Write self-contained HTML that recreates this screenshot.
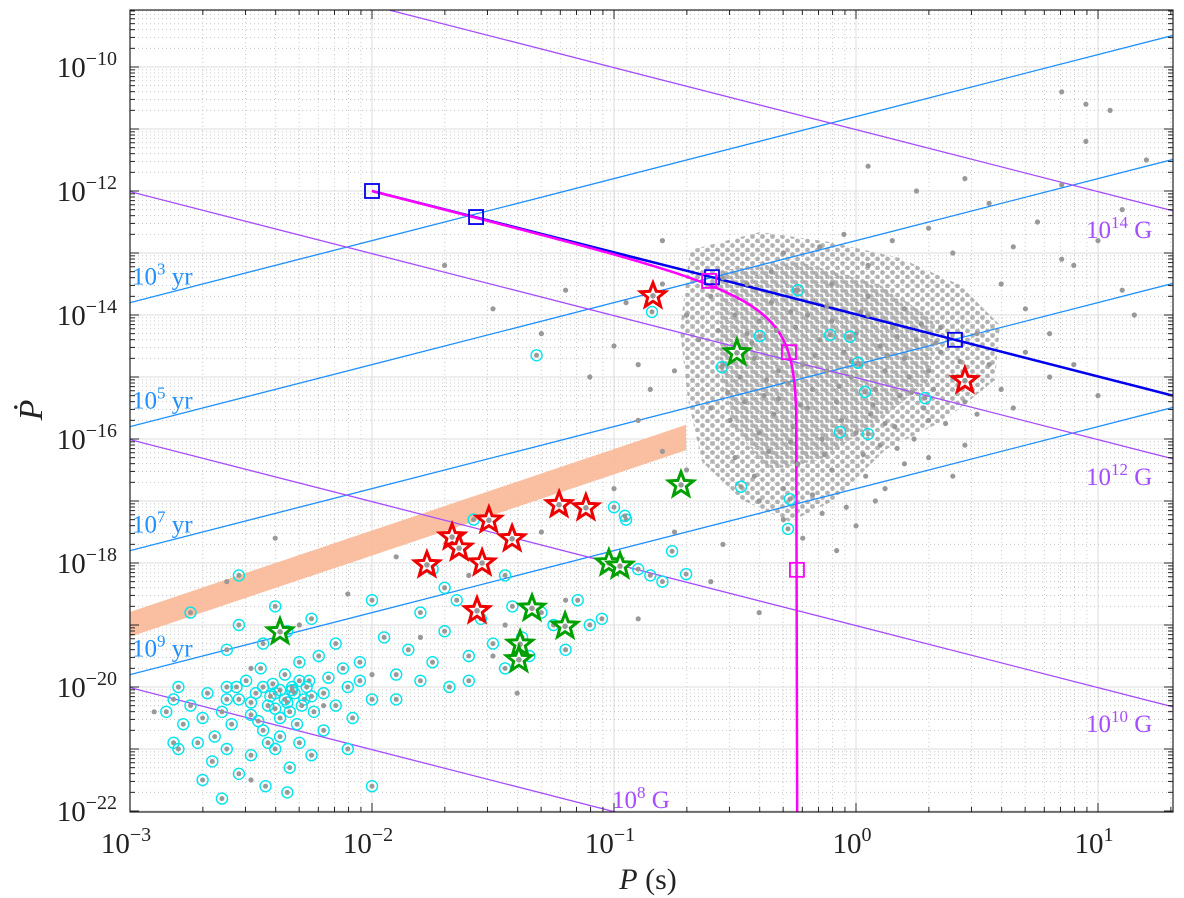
<!DOCTYPE html>
<html><head><meta charset="utf-8">
<style>
html,body{margin:0;padding:0;background:#fff;overflow:hidden;width:1184px;height:898px;}
svg{display:block;font-family:"Liberation Serif",serif;}
</style></head>
<body>
<svg id="chart" width="1184" height="898" viewBox="0 0 1184 898" xmlns="http://www.w3.org/2000/svg">
<defs>
<pattern id="dotsA" x="0" y="0" width="10" height="9" patternUnits="userSpaceOnUse"><circle cx="2.5" cy="2.5" r="2.4" fill="#9a9a9a"/><circle cx="7.5" cy="7" r="2.4" fill="#9a9a9a"/></pattern>
<pattern id="dotsB" x="0" y="0" width="10" height="9" patternUnits="userSpaceOnUse"><circle cx="6" cy="3.5" r="2.4" fill="#9a9a9a"/><circle cx="1" cy="8" r="2.4" fill="#9a9a9a"/></pattern>
</defs>
<g id="grid"></g>
<g id="density">
<path d="M690,250 L760,232 L830,242 L900,258 L960,285 L1000,325 L995,380 L945,420 L885,450 L835,500 L790,522 L742,500 L702,462 L688,400 L680,330 Z" fill="url(#dotsA)" opacity="0.75"/>
<path d="M720,270 L800,262 L880,285 L935,320 L930,380 L880,420 L820,460 L770,470 L735,430 L718,360 Z" fill="url(#dotsB)" opacity="0.75"/>
</g>
<g id="lines"></g>
<g id="pts"></g>
<g id="axes"></g>
</svg>
<script>
const xTicks=[-3,-2,-1,0,1];
const yTicks=[-10,-12,-14,-16,-18,-20,-22];
const ageLines=[3,5,7,9];
const bLines=[14,12,10,8];
const grayP=[-0.5,-0.45,-0.4,-0.35,-0.3,-0.25,-0.2,-0.15,-0.1,-0.05,0,0.05,0.1,0.15,0.2,0.25,0.3,0.35,
-0.55,-0.48,-0.42,-0.38,-0.32,-0.28,-0.22,-0.18,-0.12,-0.08,-0.02,0.02,0.08,0.12,0.18,0.22,0.28,0.32,0.4,0.45,
-0.6,-0.52,-0.46,-0.4,-0.34,-0.26,-0.2,-0.14,-0.06,0,0.06,0.1,0.16,0.24,0.3,
-0.5,-0.42,-0.36,-0.3,-0.24,-0.18,-0.1,-0.04,0.04,0.12,0.2,
-0.3,-0.22,-0.14,-0.4,-0.08,0,0.08,
-0.6,-0.7,-0.8,-0.65,-0.75,-0.55,-0.45,-0.35,-0.25,-0.1,0.05,0.2,0.35,0.5,0.55,0.6,0.5,0.45,0.4,0.3,
-0.47,-0.33,-0.17,-0.03,0.13,0.27,-0.37,-0.23,-0.07,0.07,0.23,0.37,-0.53,-0.27,-0.13,0.03,0.17,-0.43,-0.57,0.43,0.02,-0.12,-0.27,0.17,0.33,-0.02,-0.32,0.12,
0.6,0.7,0.8,0.9,1.0,0.75,0.85,1.1,1.2,0.95,0.65,0.55,0.4,0.3,0.15,0.05,-0.05,1.05,0.85,0.95,0.45,1.15,1.1,0.7,0.8,0.9,0.65,1.0,0.85,0.25,0.05,
-1.0,-0.9,-0.85,-1.1,-0.95,-1.3,-1.5,-1.7,-1.2,-0.9,-0.8,-0.7,-1.0,-1.3,-1.6,-1.9,-2.1,-2.3,-2.5,-1.8,-1.5,-1.2,-0.9,-0.6,-0.4,-1.4,-2.0,-2.6,-2.9,-2.4,-0.55,-0.75,-1.05,-1.45,-2.2,-2.5,-0.3,-0.15,-0.8];
const grayPd=[-14.0,-14.3,-14.1,-13.8,-14.5,-14.2,-14.0,-14.4,-14.1,-14.6,-14.3,-14.0,-14.5,-14.2,-14.7,-14.4,-14.9,-14.6,
-14.8,-15.0,-14.7,-15.3,-14.9,-15.1,-14.8,-15.2,-14.9,-15.4,-15.0,-14.8,-15.2,-14.9,-15.3,-15.0,-15.5,-15.2,-15.0,-15.4,
-15.5,-15.7,-15.4,-15.9,-15.6,-15.8,-15.5,-16.0,-15.7,-15.9,-15.6,-16.1,-15.8,-16.0,-15.7,
-16.3,-16.6,-16.2,-16.8,-16.4,-16.9,-16.5,-17.1,-16.6,-16.8,-16.4,
-17.3,-17.6,-17.2,-17.0,-17.8,-17.4,-17.0,
-13.7,-14.0,-13.5,-14.4,-14.9,-13.4,-13.5,-13.3,-13.6,-13.5,-13.7,-13.9,-14.2,-14.3,-14.8,-15.2,-15.6,-16.1,-16.6,-16.3,
-14.55,-14.25,-14.65,-14.35,-14.65,-14.15,-15.05,-15.45,-15.15,-15.45,-15.25,-15.75,-15.25,-16.05,-16.25,-16.25,-16.15,-14.45,-14.25,-14.75,-13.95,-13.85,-13.95,-14.35,-14.45,-14.75,-15.35,-15.75,
-13.5,-13.9,-14.3,-13.2,-12.8,-12.5,-11.9,-12.3,-11.5,-11.2,-12.9,-12.2,-13.0,-12.6,-12.8,-13.2,-12.7,-10.7,-10.4,-10.6,-11.8,-14.0,-13.6,-14.6,-15.0,-14.8,-15.5,-15.3,-13.1,-12.0,-11.6,
-14.5,-14.8,-15.2,-15.0,-13.8,-14.3,-13.9,-13.2,-13.6,-15.7,-16.2,-16.5,-16.8,-17.5,-18.2,-17.9,-18.5,-19.0,-19.7,-19.2,-19.5,-18.6,-18.9,-18.3,-18.8,-20.1,-19.8,-18.3,-20.4,-17.6,-17.7,-17.5,-18.0,-19.0,-20.3,-21.5,-13.0,-12.9,-12.8];
const cyanP=[-2.75,-2.7,-2.68,-2.65,-2.62,-2.6,-2.58,-2.55,-2.52,-2.5,-2.48,-2.46,-2.45,-2.43,-2.41,-2.4,-2.38,-2.36,-2.35,-2.33,-2.31,-2.3,-2.28,-2.26,-2.24,-2.22,-2.2,-2.18,-2.15,-2.12,-2.1,-2.08,-2.05,-2.0,
-2.8,-2.78,-2.72,-2.66,-2.6,-2.55,-2.5,-2.44,-2.4,-2.34,-2.3,-2.25,-2.2,-2.1,-2.0,-2.82,-2.85,-2.8,-2.82,-2.7,-2.62,-2.35,
-2.6,-2.55,-2.45,-2.4,-2.35,-2.25,-2.15,-2.05,-1.95,-1.9,-1.85,-1.8,-1.75,-1.7,-1.65,-1.6,-1.55,-1.5,-1.45,-1.42,-1.38,-1.35,-1.3,-1.25,-1.2,-1.15,-1.1,-1.05,-0.9,-0.85,-0.8,-0.95,-1.0,-1.58,-1.45,-1.7,-2.0,-1.75,-2.55,-2.75,-1.9,-1.8,-1.68,-1.6,
-2.45,-2.42,-2.38,-2.36,-2.32,-2.3,-2.27,-2.25,-2.4,-2.34,-2.29,-2.5,-2.47,-2.56,-2.6,-2.33,-2.38,-2.43,
-1.32,-0.843,-0.24,-0.397,-0.107,-0.025,0.008,0.037,-0.554,-0.066,0.05,0.285,-0.475,-0.273,-0.281,-0.955,-0.76,-0.702,-0.99];
const cyanPd=[-20.3,-20.5,-20.1,-20.8,-20.4,-20.0,-20.6,-20.2,-19.9,-20.45,-20.1,-19.7,-20.7,-20.3,-19.95,-20.1,-20.5,-19.8,-20.25,-20.0,-20.6,-19.6,-20.2,-19.9,-20.4,-19.5,-20.1,-19.85,-20.3,-19.7,-20.0,-20.5,-19.9,-20.2,
-20.0,-20.6,-20.9,-21.2,-21.0,-21.4,-21.1,-21.6,-21.0,-21.3,-20.9,-21.1,-20.7,-21.0,-21.6,-20.9,-20.4,-21.0,-20.2,-21.5,-21.8,-21.7,
-19.4,-19.0,-19.3,-18.7,-19.1,-18.9,-19.3,-19.6,-19.2,-19.8,-19.4,-18.8,-19.6,-19.1,-18.6,-19.5,-18.9,-19.3,-19.7,-18.7,-19.2,-19.5,-18.8,-19.0,-19.4,-18.6,-19.0,-18.9,-18.1,-18.2,-18.3,-17.3,-17.1,-17.3,-18.2,-18.4,-18.6,-18.1,-18.2,-18.8,-20.2,-19.9,-20.0,-19.9,
-20.0,-20.15,-20.05,-20.2,-20.1,-19.9,-20.0,-20.15,-20.35,-20.4,-20.3,-20.25,-20.55,-20.0,-20.2,-20.05,-20.8,-20.9,
-14.65,-13.95,-13.6,-14.34,-14.32,-14.35,-14.77,-15.24,-14.84,-15.89,-15.92,-15.34,-16.77,-16.97,-17.45,-17.24,-17.81,-18.18,-18.05];
const redP=[-0.839,0.450,-1.773,-1.669,-1.640,-1.545,-1.517,-1.421,-1.227,-1.116,-1.566];
const redPd=[-13.69,-15.06,-18.03,-17.58,-17.76,-18.00,-17.31,-17.61,-17.06,-17.11,-18.77];
const greenP=[-2.380,-0.492,-0.723,-1.021,-0.975,-1.339,-1.202,-1.388,-1.393];
const greenPd=[-19.11,-14.61,-16.74,-18.00,-18.05,-18.73,-19.02,-19.31,-19.56];
const blueSqP=[-2,-1.570,-0.595,0.409];
const blueSqPd=[-12,-12.42,-13.39,-14.40];
const magSqP=[-0.607,-0.277,-0.244];
const magSqPd=[-13.45,-14.60,-18.11];
const bandP=[-3,-0.702];
const bandUpper=[-18.79,-15.77];
const bandLower=[-19.19,-16.18];

const L=130,R=1173,T=10,B=812;
const X=lp=>130+(lp+3)*242;
const Y=ld=>67+(-10-ld)*62;
const NS="http://www.w3.org/2000/svg";
function mk(tag,attrs,parent){const e=document.createElementNS(NS,tag);for(const k in attrs)e.setAttribute(k,attrs[k]);parent.appendChild(e);return e;}
const grid=document.getElementById('grid'),lines=document.getElementById('lines'),pts=document.getElementById('pts'),axes=document.getElementById('axes');
const svg=document.getElementById('chart');
const defs=svg.querySelector('defs');
const cp=mk('clipPath',{id:'clip'},defs);mk('rect',{x:L,y:T,width:R-L,height:B-T},cp);
lines.setAttribute('clip-path','url(#clip)');pts.setAttribute('clip-path','url(#clip)');

for(let d=-3;d<=1;d++){for(let m=1;m<=9;m++){const lp=d+Math.log10(m);const x=X(lp);if(x<L||x>R)continue;
 const g=mk('line',{x1:x,x2:x,y1:T,y2:B,stroke:m==1?'#dcdcdc':'#bdbdbd','stroke-width':m==1?1:0.8,'stroke-dasharray':m==1?'none':'1 3'},grid);
 }}
for(let d=-23;d<=-9;d++){for(let m=1;m<=9;m++){const ld=d+Math.log10(m);const y=Y(ld);if(y<T||y>B)continue;
 const g=mk('line',{x1:L,x2:R,y1:y,y2:y,stroke:m==1?'#dcdcdc':'#bdbdbd','stroke-width':m==1?1:0.8,'stroke-dasharray':m==1?'none':'1 3'},grid);
 }}

{const p=mk('polygon',{points:[[X(bandP[0]),Y(bandUpper[0])],[X(bandP[1]),Y(bandUpper[1])],[X(bandP[1]),Y(bandLower[1])],[X(bandP[0]),Y(bandLower[0])]].map(a=>a.join(',')).join(' '),fill:'#f9b897',opacity:0.9},lines);
}

const yr=3.156e7;
ageLines.forEach(a=>{const c=Math.log10(2*Math.pow(10,a)*yr);
 const l=mk('line',{x1:X(-3),y1:Y(-3-c),x2:X(1.5),y2:Y(1.5-c),stroke:'#1e90ff','stroke-width':1.3},lines);
 
 const t=mk('text',{x:132,y:Y(-3-c)-18,fill:'#1e90ff','font-size':25},axes);
 t.innerHTML='10<tspan dy="-10" font-size="17">'+a+'</tspan><tspan dy="10"> yr</tspan>';
 });
bLines.forEach(b=>{const c=2*(b-Math.log10(3.2e19));
 const l=mk('line',{x1:X(-3),y1:Y(c+3),x2:X(1.5),y2:Y(c-1.5),stroke:'#a64dff','stroke-width':1.3},lines);
 });
[[14,1086,238],[12,1086,485],[10,1086,732],[8,612,808]].forEach(([b,x,y])=>{
 const t=mk('text',{x:x,y:y,fill:'#a64dff','font-size':25},axes);
 t.innerHTML='10<tspan dy="-10" font-size="17">'+b+'</tspan><tspan dy="10"> G</tspan>';
 });

{const l=mk('polyline',{points:[[X(blueSqP[0]),Y(blueSqPd[0])],[X(blueSqP[2]),Y(blueSqPd[2])],[X(blueSqP[3]),Y(blueSqPd[3])],[X(1.4),Y(blueSqPd[3]-(1.4-blueSqP[3]))]].map(a=>a.join(',')).join(' '),fill:'none',stroke:'#0000ee','stroke-width':2.5},lines);
}
{const Pm=0.572,n=1.67;let pp=[];
 for(let i=0;i<=400;i++){const lp=-2+i*(Math.log10(Pm)+2)/400;const P=Math.pow(10,lp);const r=1-Math.pow(P/Pm,n);
  let ld=-12-(lp+2)+Math.log10(Math.max(r,1e-12));if(ld<-23)ld=-23;pp.push([X(lp).toFixed(1),Y(ld).toFixed(1)]);}
 pp.push([X(Math.log10(Pm)).toFixed(1),B+5]);
 const l=mk('polyline',{points:pp.map(a=>a.join(',')).join(' '),fill:'none',stroke:'#ff00ff','stroke-width':2.5},lines);
 }

grayP.forEach((p,i)=>{const c=mk('circle',{cx:X(p),cy:Y(grayPd[i]),r:2.6,fill:'#999'},pts);
 });
cyanP.forEach((p,i)=>{const g=mk('g',{},pts);
 
 mk('circle',{cx:X(p),cy:Y(cyanPd[i]),r:5.5,fill:'none',stroke:'#00e5ee','stroke-width':1.4},g);
 mk('circle',{cx:X(p),cy:Y(cyanPd[i]),r:2.5,fill:'#999'},g);});
function star(cx,cy,col){const g=mk('g',{},pts);let s=[];for(let k=0;k<10;k++){const a=-Math.PI/2+k*Math.PI/5;const r=k%2?5.5:13;s.push([(cx+r*Math.cos(a)).toFixed(1),(cy+r*Math.sin(a)).toFixed(1)]);}
 mk('polygon',{points:s.map(a=>a.join(',')).join(' '),fill:'#fff',stroke:col,'stroke-width':3,'stroke-linejoin':'miter'},g);
 mk('circle',{cx:cx,cy:cy,r:2.8,fill:'#999'},g);return g;}
redP.forEach((p,i)=>{const g=star(X(p),Y(redPd[i]),'#ee0000');
 });
greenP.forEach((p,i)=>{const g=star(X(p),Y(greenPd[i]),'#00a000');
 });
blueSqP.forEach((p,i)=>{const r=mk('rect',{x:X(p)-7,y:Y(blueSqPd[i])-7,width:14,height:14,fill:'none',stroke:'#0000ee','stroke-width':1.8},pts);
 });
magSqP.forEach((p,i)=>{const r=mk('rect',{x:X(p)-7,y:Y(magSqPd[i])-7,width:14,height:14,fill:'none',stroke:'#ff00ff','stroke-width':1.8},pts);
 });

{const b=mk('rect',{x:L,y:T,width:R-L,height:B-T,fill:'none',stroke:'#222','stroke-width':1.2},axes);
}
for(let d=-3;d<=1;d++){for(let m=1;m<=9;m++){const x=X(d+Math.log10(m));if(x>R)continue;const len=m==1?9:5;
 mk('line',{x1:x,x2:x,y1:B,y2:B-len,stroke:'#222'},axes);mk('line',{x1:x,x2:x,y1:T,y2:T+len,stroke:'#222'},axes);}}
for(let d=-23;d<=-9;d++){for(let m=1;m<=9;m++){const y=Y(d+Math.log10(m));if(y<T||y>B)continue;const len=m==1?9:5;
 mk('line',{x1:L,x2:L+len,y1:y,y2:y,stroke:'#222'},axes);mk('line',{x1:R,x2:R-len,y1:y,y2:y,stroke:'#222'},axes);}}
xTicks.forEach(t=>{const e=mk('text',{x:X(t)-4,y:853,'text-anchor':'middle','font-size':29,fill:'#222'},axes);
 e.innerHTML='10<tspan dy="-12" font-size="20">'+(t<0?'\u2212'+(-t):t)+'</tspan>';
 });
yTicks.forEach(t=>{const e=mk('text',{x:117,y:Y(t)+10,'text-anchor':'end','font-size':29,fill:'#222'},axes);
 e.innerHTML='10<tspan dy="-12" font-size="20">\u2212'+(-t)+'</tspan>';
 });
{const e=mk('text',{x:648,y:889,'text-anchor':'middle','font-size':30,fill:'#222'},axes);
e.innerHTML='<tspan font-style="italic">P</tspan> (s)';

const f=mk('text',{x:0,y:0,'text-anchor':'middle','font-size':34,'font-style':'italic',fill:'#222',transform:'translate(42,410) rotate(-90)'},axes);
f.textContent='P\u0307';
}
</script>
</body></html>
